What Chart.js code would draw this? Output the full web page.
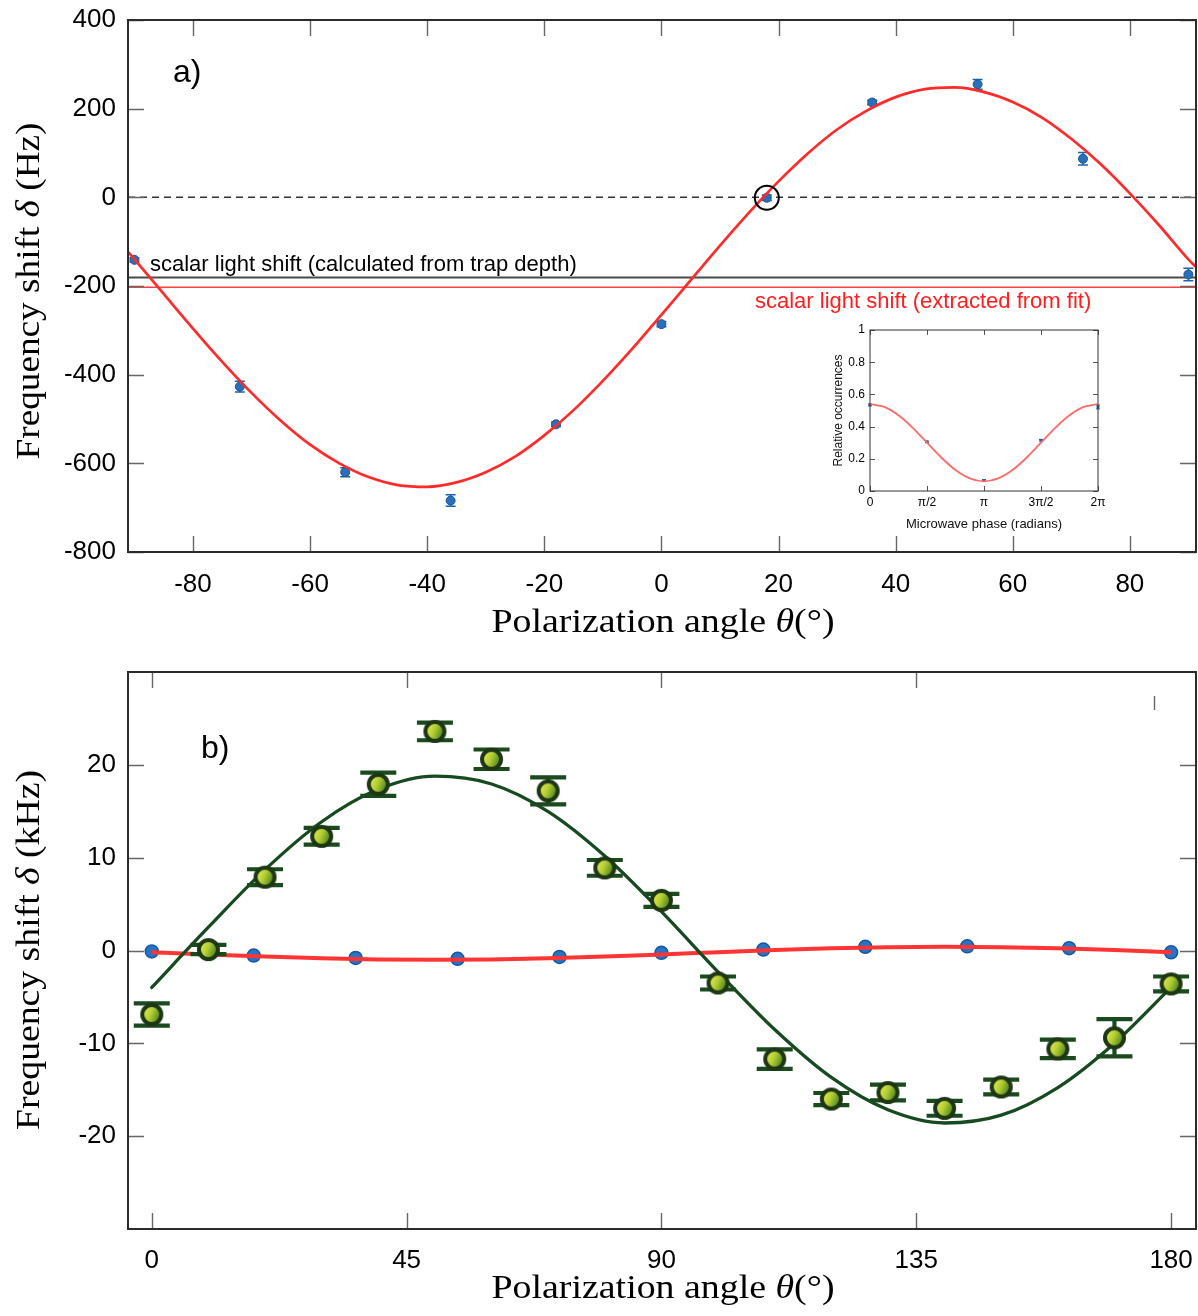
<!DOCTYPE html>
<html>
<head>
<meta charset="utf-8">
<script src="https://cdn.jsdelivr.net/npm/chart.js@4.4.0/dist/chart.umd.min.js"></script>
<style>
  html, body { margin: 0; padding: 0; background: #fff; }
  #wrap { position: relative; width: 1198px; height: 1316px; overflow: hidden; }
  .box { position: absolute; }
</style>
</head>
<body>
<div id="wrap">
  <div class="box" style="left:0;top:0;"><canvas id="topChart" width="1198" height="640"></canvas></div>
  <div class="box" style="left:0;top:640px;"><canvas id="botChart" width="1198" height="676"></canvas></div>
  <div class="box" style="left:826px;top:322px;"><canvas id="insetChart" width="290" height="210"></canvas></div>
</div>
<script>
// ---------- panel a) : clock shift vs polarization angle (Hz) ----------
const anglesA = [-90, -72, -54, -36, -18, 0, 18, 36, 54, 72, 90];
const shiftA  = [-141, -427, -620, -684, -512, -286, -1, 214, 255, 87, -174];
const errA    = [5, 12, 10, 13, 5, 6, 6, 5, 11, 14, 14];

const fitAnglesA = [-91, -85, -80, -75, -70, -65, -60, -55, -50, -45, -40, -35, -30, -25, -20, -15, -10, -5,
                    0, 5, 10, 15, 20, 25, 30, 35, 40, 45, 50, 55, 60, 65, 70, 75, 80, 85, 90, 91.3];
const fitShiftA  = [-124, -218, -296, -371, -441, -504, -558, -600, -631, -649, -653, -643, -620, -585, -537, -480, -414, -342,
                    -265, -187, -109, -34, 36, 99, 153, 195, 226, 244, 248, 238, 215, 180, 132, 75, 9, -63, -140, -157];

const calcLevelA = -181;   // scalar light shift calculated from trap depth
const fitLevelA  = -203;   // scalar light shift extracted from fit
const ticksXA = [-80, -60, -40, -20, 0, 20, 40, 60, 80];
const ticksYA = [-800, -600, -400, -200, 0, 200, 400];

// ---------- inset : Ramsey phase scan ----------
const phaseTicks  = [0, 1.5708, 3.1416, 4.7124, 6.2832];
const phaseLabels = ['0', 'π/2', 'π', '3π/2', '2π'];
const occTicks    = [0, 0.2, 0.4, 0.6, 0.8, 1];
const occLabels   = ['0', '0.2', '0.4', '0.6', '0.8', '1'];
const occPhase = [0, 1.5708, 3.1416, 4.7124, 6.2832];
const occValue = [0.535, 0.305, 0.066, 0.315, 0.522];
const occErr   = [0.006, 0.005, 0.005, 0.005, 0.012];
const occFitPhase = [0, 0.3927, 0.7854, 1.1781, 1.5708, 1.9635, 2.3562, 2.7489, 3.1416,
                     3.5343, 3.9270, 4.3197, 4.7124, 5.1051, 5.4978, 5.8905, 6.2832];
const occFitValue = [0.540, 0.522, 0.470, 0.392, 0.300, 0.208, 0.130, 0.078, 0.060,
                     0.078, 0.130, 0.208, 0.300, 0.392, 0.470, 0.522, 0.540];

// ---------- panel b) : shift vs polarization angle (kHz) ----------
const anglesTrapB = [0, 18, 36, 54, 72, 90, 108, 126, 144, 162, 180];
const shiftTrapB  = [-0.1, -0.55, -0.8, -0.9, -0.7, -0.25, 0.1, 0.4, 0.45, 0.25, -0.2];
const fitAnglesTrapB = [0, 10, 20, 30, 40, 50, 60, 70, 80, 90, 100, 110, 120, 130, 140, 150, 160, 170, 180];
const fitShiftTrapB  = [-0.18, -0.42, -0.65, -0.84, -0.96, -1.0, -0.96, -0.84, -0.65, -0.42, -0.18, 0.05, 0.24, 0.36, 0.4, 0.36, 0.24, 0.05, -0.18];

const anglesB = [0, 10, 20, 30, 40, 50, 60, 70, 80, 90, 100, 110, 120, 130, 140, 150, 160, 170, 180];
const shiftB  = [-6.9, 0.1, 7.9, 12.3, 17.9, 23.6, 20.6, 17.2, 8.9, 5.4, -3.5, -11.7, -16.0, -15.3, -17.0, -14.7, -10.6, -9.4, -3.6];
const errB    = [1.2, 0.5, 0.85, 0.9, 1.25, 0.95, 1.05, 1.45, 0.85, 0.7, 0.7, 1.05, 0.65, 0.85, 0.8, 0.8, 1.0, 2.0, 0.8];
const fitAnglesB = [0, 10, 20, 30, 40, 50, 60, 70, 80, 90, 100, 110, 120, 130, 140, 150, 160, 170, 180];
const fitShiftB  = [-3.98, 2.51, 8.71, 13.87, 17.36, 18.78, 17.94, 14.96, 10.18, 4.18, -2.31, -8.51, -13.67, -17.16, -18.58, -17.74, -14.76, -9.98, -3.98];
const ticksXB = [0, 45, 90, 135, 180];
const ticksYB = [-20, -10, 0, 10, 20];

const SANS  = '"Liberation Sans", Arial, Helvetica, sans-serif';
const SERIF = '"Liberation Serif", "Times New Roman", serif';

const pts = (xs, ys) => xs.map((x, i) => ({ x, y: ys[i] }));

// ---------- plugins ----------
const errorBars = {
  id: 'errorBars',
  beforeDatasetDraw(chart, args) {
    const ds = chart.data.datasets[args.index];
    if (!ds.errors) return;
    const y = chart.scales.y, ctx = chart.ctx, cap = ds.errorCap;
    ctx.save();
    ctx.strokeStyle = ds.errorColor;
    ctx.lineWidth = ds.errorWidth;
    ctx.lineCap = 'butt';
    ds.data.forEach((p, i) => {
      const px = args.meta.data[i].x;
      const y1 = y.getPixelForValue(p.y + ds.errors[i]);
      const y2 = y.getPixelForValue(p.y - ds.errors[i]);
      ctx.beginPath();
      ctx.moveTo(px, y1); ctx.lineTo(px, y2);
      ctx.moveTo(px - cap, y1); ctx.lineTo(px + cap, y1);
      ctx.moveTo(px - cap, y2); ctx.lineTo(px + cap, y2);
      ctx.stroke();
    });
    ctx.restore();
  }
};

const frame = {
  id: 'frame',
  afterDatasetsDraw(chart, args, o) {
    const { ctx, chartArea: a, scales: { x, y } } = chart;
    ctx.save();
    ctx.strokeStyle = o.tickColor;
    ctx.lineWidth = o.tickWidth;
    ctx.beginPath();
    const topTicks = o.topTicks || x.ticks.map(t => t.value);
    x.ticks.forEach(t => {
      const px = Math.round(x.getPixelForValue(t.value)) + 0.5;
      ctx.moveTo(px, a.bottom); ctx.lineTo(px, a.bottom - o.len);
    });
    topTicks.forEach(v => {
      const px = Math.round(x.getPixelForValue(v)) + 0.5;
      ctx.moveTo(px, a.top); ctx.lineTo(px, a.top + o.len);
    });
    y.ticks.forEach(t => {
      const py = Math.round(y.getPixelForValue(t.value)) + 0.5;
      ctx.moveTo(a.left, py); ctx.lineTo(a.left + o.len, py);
      ctx.moveTo(a.right, py); ctx.lineTo(a.right - o.len, py);
    });
    if (o.stray) {
      const px = Math.round(x.getPixelForValue(o.stray.x)) + 0.5;
      ctx.moveTo(px, a.top + o.stray.from); ctx.lineTo(px, a.top + o.stray.to);
    }
    ctx.stroke();
    ctx.strokeStyle = o.color;
    ctx.lineWidth = o.width;
    ctx.strokeRect(a.left, a.top, a.right - a.left, a.bottom - a.top);
    ctx.restore();
  }
};

function drawRich(ctx, r) {
  ctx.save();
  ctx.translate(r.x, r.y);
  ctx.rotate(r.rot || 0);
  let total = 0;
  r.parts.forEach(p => {
    ctx.font = (p.i ? 'italic ' : '') + r.size + 'px ' + SERIF;
    p.w = ctx.measureText(p.t).width;
    total += p.w;
  });
  ctx.scale(r.width / total, 1);
  ctx.fillStyle = '#000';
  ctx.textAlign = 'left';
  ctx.textBaseline = 'alphabetic';
  let cx = -total / 2;
  r.parts.forEach(p => {
    ctx.font = (p.i ? 'italic ' : '') + r.size + 'px ' + SERIF;
    ctx.fillText(p.t, cx, 0);
    cx += p.w;
  });
  ctx.restore();
}

const texts = {
  id: 'texts',
  afterDraw(chart, args, o) {
    const ctx = chart.ctx;
    (o.items || []).forEach(t => {
      ctx.save();
      ctx.font = t.font;
      ctx.fillStyle = t.color || '#000';
      ctx.textAlign = t.align || 'left';
      ctx.textBaseline = 'alphabetic';
      ctx.fillText(t.text, t.x, t.y);
      ctx.restore();
    });
    (o.rich || []).forEach(r => drawRich(ctx, r));
  }
};

// shaded bead marker used for the panel b) measurements
function bead(r, ring) {
  const s = Math.ceil(2 * (r + ring)) + 2;
  const c = document.createElement('canvas');
  c.width = s; c.height = s;
  const g = c.getContext('2d');
  const cx = s / 2, cy = s / 2;
  const grad = g.createLinearGradient(cx - r, cy - r * 0.4, cx + r, cy + r * 0.4);
  grad.addColorStop(0, '#e6ee50');
  grad.addColorStop(0.45, '#b4cd34');
  grad.addColorStop(1, '#3c7a1c');
  g.beginPath();
  g.arc(cx, cy, r, 0, Math.PI * 2);
  g.fillStyle = grad;
  g.fill();
  g.lineWidth = ring;
  g.strokeStyle = '#1d3614';
  g.stroke();
  return c;
}

function axis(min, max, tickVals, size, fontSize, padding, extra) {
  return Object.assign({
    type: 'linear', min, max,
    afterBuildTicks: s => { s.ticks = tickVals.map(v => ({ value: v })); },
    afterFit: s => {
      if (s.isHorizontal()) s.height = size; else s.width = size;
      s.paddingTop = 0; s.paddingBottom = 0; s.paddingLeft = 0; s.paddingRight = 0;
    },
    grid: { display: false, drawTicks: false },
    border: { display: false },
    ticks: { font: { family: SANS, size: fontSize }, color: '#000', padding, maxRotation: 0, autoSkip: false }
  }, extra || {});
}

Chart.defaults.animation = false;
Chart.defaults.responsive = false;
Chart.defaults.devicePixelRatio = 1;

// ---------- panel a) ----------
const xMinA = -91.1, xMaxA = 91.3;
new Chart(document.getElementById('topChart'), {
  type: 'scatter',
  data: {
    datasets: [
      { data: [{ x: anglesA[6], y: shiftA[6] }], pointRadius: 12, pointBackgroundColor: 'rgba(0,0,0,0)',
        pointBorderColor: '#000', pointBorderWidth: 2, order: 0 },
      { type: 'line', data: pts(fitAnglesA, fitShiftA), borderColor: '#ff2a2a', borderWidth: 2.7,
        pointRadius: 0, cubicInterpolationMode: 'monotone', order: 1 },
      { data: pts(anglesA, shiftA), errors: errA, errorColor: '#1f63ad', errorWidth: 1.5, errorCap: 5,
        pointRadius: 4.5, pointBackgroundColor: '#2a6fba', pointBorderColor: '#1a5597', pointBorderWidth: 1,
        clip: false, order: 2 },
      { type: 'line', data: [{ x: xMinA, y: fitLevelA }, { x: xMaxA, y: fitLevelA }], borderColor: '#ff4040',
        borderWidth: 1.5, pointRadius: 0, order: 3 },
      { type: 'line', data: [{ x: xMinA, y: calcLevelA }, { x: xMaxA, y: calcLevelA }], borderColor: '#4a4a4a',
        borderWidth: 2, pointRadius: 0, order: 4 },
      { type: 'line', data: [{ x: xMinA, y: 0 }, { x: xMaxA, y: 0 }], borderColor: '#333',
        borderWidth: 1.5, borderDash: [7, 5], pointRadius: 0, order: 5 }
    ]
  },
  options: {
    events: [],
    layout: { autoPadding: false, padding: { top: 20, right: 2, left: 0, bottom: 0 } },
    scales: {
      x: axis(xMinA, xMaxA, ticksXA, 88, 26, 17),
      y: axis(-800, 400, ticksYA, 128, 26, 12)
    },
    plugins: {
      legend: { display: false },
      tooltip: { enabled: false },
      frame: { len: 16, tickColor: '#666', tickWidth: 1.4, color: '#2b2b2b', width: 2 },
      texts: {
        items: [
          { text: 'a)', x: 173, y: 82, font: '32px ' + SANS },
          { text: 'scalar light shift (calculated from trap depth)', x: 150, y: 271, font: '22px ' + SANS },
          { text: 'scalar light shift (extracted from fit)', x: 755, y: 308, font: '22px ' + SANS, color: '#ff1e1e' }
        ],
        rich: [
          { parts: [{ t: 'Polarization angle ' }, { t: 'θ', i: true }, { t: '(°)' }], x: 663, y: 632, size: 34, width: 343 },
          { parts: [{ t: 'Frequency shift ' }, { t: 'δ', i: true }, { t: ' (Hz)' }], x: 39, y: 291, size: 34, width: 337, rot: -Math.PI / 2 }
        ]
      }
    }
  },
  plugins: [errorBars, frame, texts]
});

// ---------- inset ----------
new Chart(document.getElementById('insetChart'), {
  type: 'scatter',
  data: {
    datasets: [
      { data: pts(occPhase, occValue), errors: occErr, errorColor: '#2a5fa8', errorWidth: 1, errorCap: 2,
        pointRadius: 2, pointStyle: 'rect', pointBackgroundColor: '#2a5fa8', pointBorderWidth: 0, clip: false, order: 1 },
      { type: 'line', data: pts(occFitPhase, occFitValue), borderColor: '#ff6a6a', borderWidth: 1.8,
        pointRadius: 0, cubicInterpolationMode: 'monotone', order: 0 }
    ]
  },
  options: {
    events: [],
    layout: { autoPadding: false, padding: { top: 8, right: 18, left: 0, bottom: 0 } },
    scales: {
      x: axis(0, 6.2832, phaseTicks, 41, 12, 4, {
        title: { display: true, text: 'Microwave phase (radians)', color: '#111',
                 font: { family: SANS, size: 13 }, padding: { top: 7, bottom: 0 } }
      }),
      y: axis(0, 1, occTicks, 44, 12, 5, {
        title: { display: true, text: 'Relative occurrences', color: '#111',
                 font: { family: SANS, size: 12 }, padding: { top: 5, bottom: 0 } }
      })
    },
    plugins: {
      legend: { display: false },
      tooltip: { enabled: false },
      frame: { len: 5, tickColor: '#555', tickWidth: 1, color: '#333', width: 1 }
    }
  },
  plugins: [errorBars, frame]
});
{
  const inset = Chart.getChart('insetChart');
  inset.options.scales.x.ticks.callback = (v, i) => phaseLabels[i];
  inset.options.scales.y.ticks.callback = (v, i) => occLabels[i];
  inset.update('none');
}

// ---------- panel b) ----------
new Chart(document.getElementById('botChart'), {
  type: 'scatter',
  data: {
    datasets: [
      { data: pts(anglesB, shiftB), errors: errB, errorColor: '#1a4a1e', errorWidth: 4.2, errorCap: 18,
        pointStyle: bead(9.5, 4), pointRadius: 12, clip: false, order: 0 },
      { type: 'line', data: pts(fitAnglesB, fitShiftB), borderColor: '#174a20', borderWidth: 3.3,
        borderCapStyle: 'round', pointRadius: 0, cubicInterpolationMode: 'monotone', order: 1 },
      { type: 'line', data: pts(fitAnglesTrapB, fitShiftTrapB), borderColor: '#ff3535', borderWidth: 4,
        pointRadius: 0, cubicInterpolationMode: 'monotone', order: 2 },
      { data: pts(anglesTrapB, shiftTrapB), pointRadius: 6.5, pointBackgroundColor: '#2a73c4',
        pointBorderColor: '#17579f', pointBorderWidth: 1.5, clip: false, order: 3 }
    ]
  },
  options: {
    events: [],
    layout: { autoPadding: false, padding: { top: 32, right: 2, left: 0, bottom: 0 } },
    scales: {
      x: axis(-4.2, 184.4, ticksXB, 87, 26, 16),
      y: axis(-30, 30, ticksYB, 128, 26, 12)
    },
    plugins: {
      legend: { display: false },
      tooltip: { enabled: false },
      frame: { len: 16, tickColor: '#666', tickWidth: 1.4, color: '#2b2b2b', width: 2,
               topTicks: [0, 45, 90, 135], stray: { x: 177, from: 24, to: 38 } },
      texts: {
        items: [
          { text: 'b)', x: 201, y: 118, font: '32px ' + SANS }
        ],
        rich: [
          { parts: [{ t: 'Polarization angle ' }, { t: 'θ', i: true }, { t: '(°)' }], x: 663, y: 658, size: 34, width: 343 },
          { parts: [{ t: 'Frequency shift ' }, { t: 'δ', i: true }, { t: ' (kHz)' }], x: 39, y: 310, size: 34, width: 360, rot: -Math.PI / 2 }
        ]
      }
    }
  },
  plugins: [errorBars, frame, texts]
});
</script>
</body>
</html>
